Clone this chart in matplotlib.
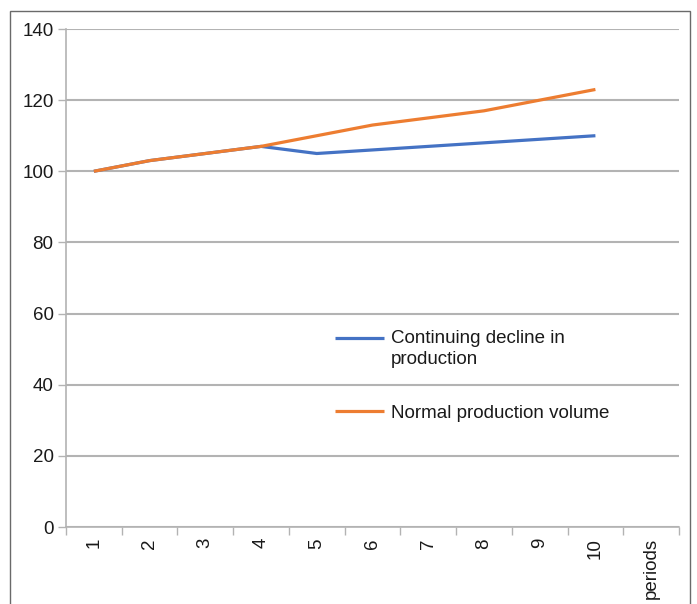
import matplotlib
matplotlib.use("Agg")
import matplotlib.pyplot as plt
from matplotlib.patches import Rectangle
from matplotlib.ticker import FixedLocator, NullFormatter

plt.rcParams["font.family"] = ["Liberation Sans", "DejaVu Sans"]

# Data
categories = ["1", "2", "3", "4", "5", "6", "7", "8", "9", "10", "periods"]
periods = [1, 2, 3, 4, 5, 6, 7, 8, 9, 10]
decline = [100, 103, 105, 107, 105, 106, 107, 108, 109, 110]
normal = [100, 103, 105, 107, 110, 113, 115, 117, 120, 123]
yticks = [0, 20, 40, 60, 80, 100, 120, 140]

BLUE = "#4472C4"
ORANGE = "#ED7D31"
GRID = "#b3b3b3"
TEXT = "#1a1a1a"
FS = 13.5

fig = plt.figure(figsize=(6.97, 6.04), dpi=100)
ax = fig.add_axes([66 / 697, 1 - 527 / 604, (679 - 66) / 697, (527 - 29) / 604])

# Outer chart frame
fig.patches.append(Rectangle((10 / 697, -0.05), 680 / 697, 1.05 - 11 / 604,
                             transform=fig.transFigure, fill=False,
                             edgecolor="#6a6a6a", linewidth=1.0))

ax.plot(periods, decline, color=BLUE, lw=2.3, solid_capstyle="butt",
        label="Continuing decline in\nproduction", zorder=3)
ax.plot(periods, normal, color=ORANGE, lw=2.3, solid_capstyle="butt",
        label="Normal production volume", zorder=4)

ax.set_xlim(0.5, len(categories) + 0.5)
ax.set_ylim(0, 140)

# Category axis: tick marks between categories, labels at category centres
ax.xaxis.set_major_locator(FixedLocator([i + 0.5 for i in range(len(categories) + 1)]))
ax.xaxis.set_major_formatter(NullFormatter())
ax.xaxis.set_minor_locator(FixedLocator(list(range(1, len(categories) + 1))))
ax.set_xticklabels(categories, minor=True, rotation=90, fontsize=FS, color=TEXT)
ax.tick_params(axis="x", which="major", direction="out", length=6, width=1, color=GRID)
ax.tick_params(axis="x", which="minor", length=0, pad=8)

ax.set_yticks(yticks)
ax.set_yticklabels([str(v) for v in yticks], fontsize=FS, color=TEXT)
ax.tick_params(axis="y", direction="out", length=6, width=1, color=GRID, pad=3)

ax.grid(axis="y", color=GRID, lw=1.5)
ax.set_axisbelow(True)
for side in ("top", "right"):
    ax.spines[side].set_visible(False)
for side in ("left", "bottom"):
    ax.spines[side].set_color(GRID)
    ax.spines[side].set_linewidth(1.2)

leg = ax.legend(loc="upper left", bbox_to_anchor=(0.439, 0.396), frameon=False,
                fontsize=FS, handlelength=2.6, handletextpad=0.38,
                labelspacing=1.95, borderpad=0, borderaxespad=0)
for t in leg.get_texts():
    t.set_color(TEXT)
    t.set_linespacing(1.35)
# put the first handle level with the first line of its two-line label
h0 = leg.legend_handles[0]
h0.set_ydata([y + 8.0 for y in h0.get_ydata()])

fig.savefig("out.png", dpi=100)
